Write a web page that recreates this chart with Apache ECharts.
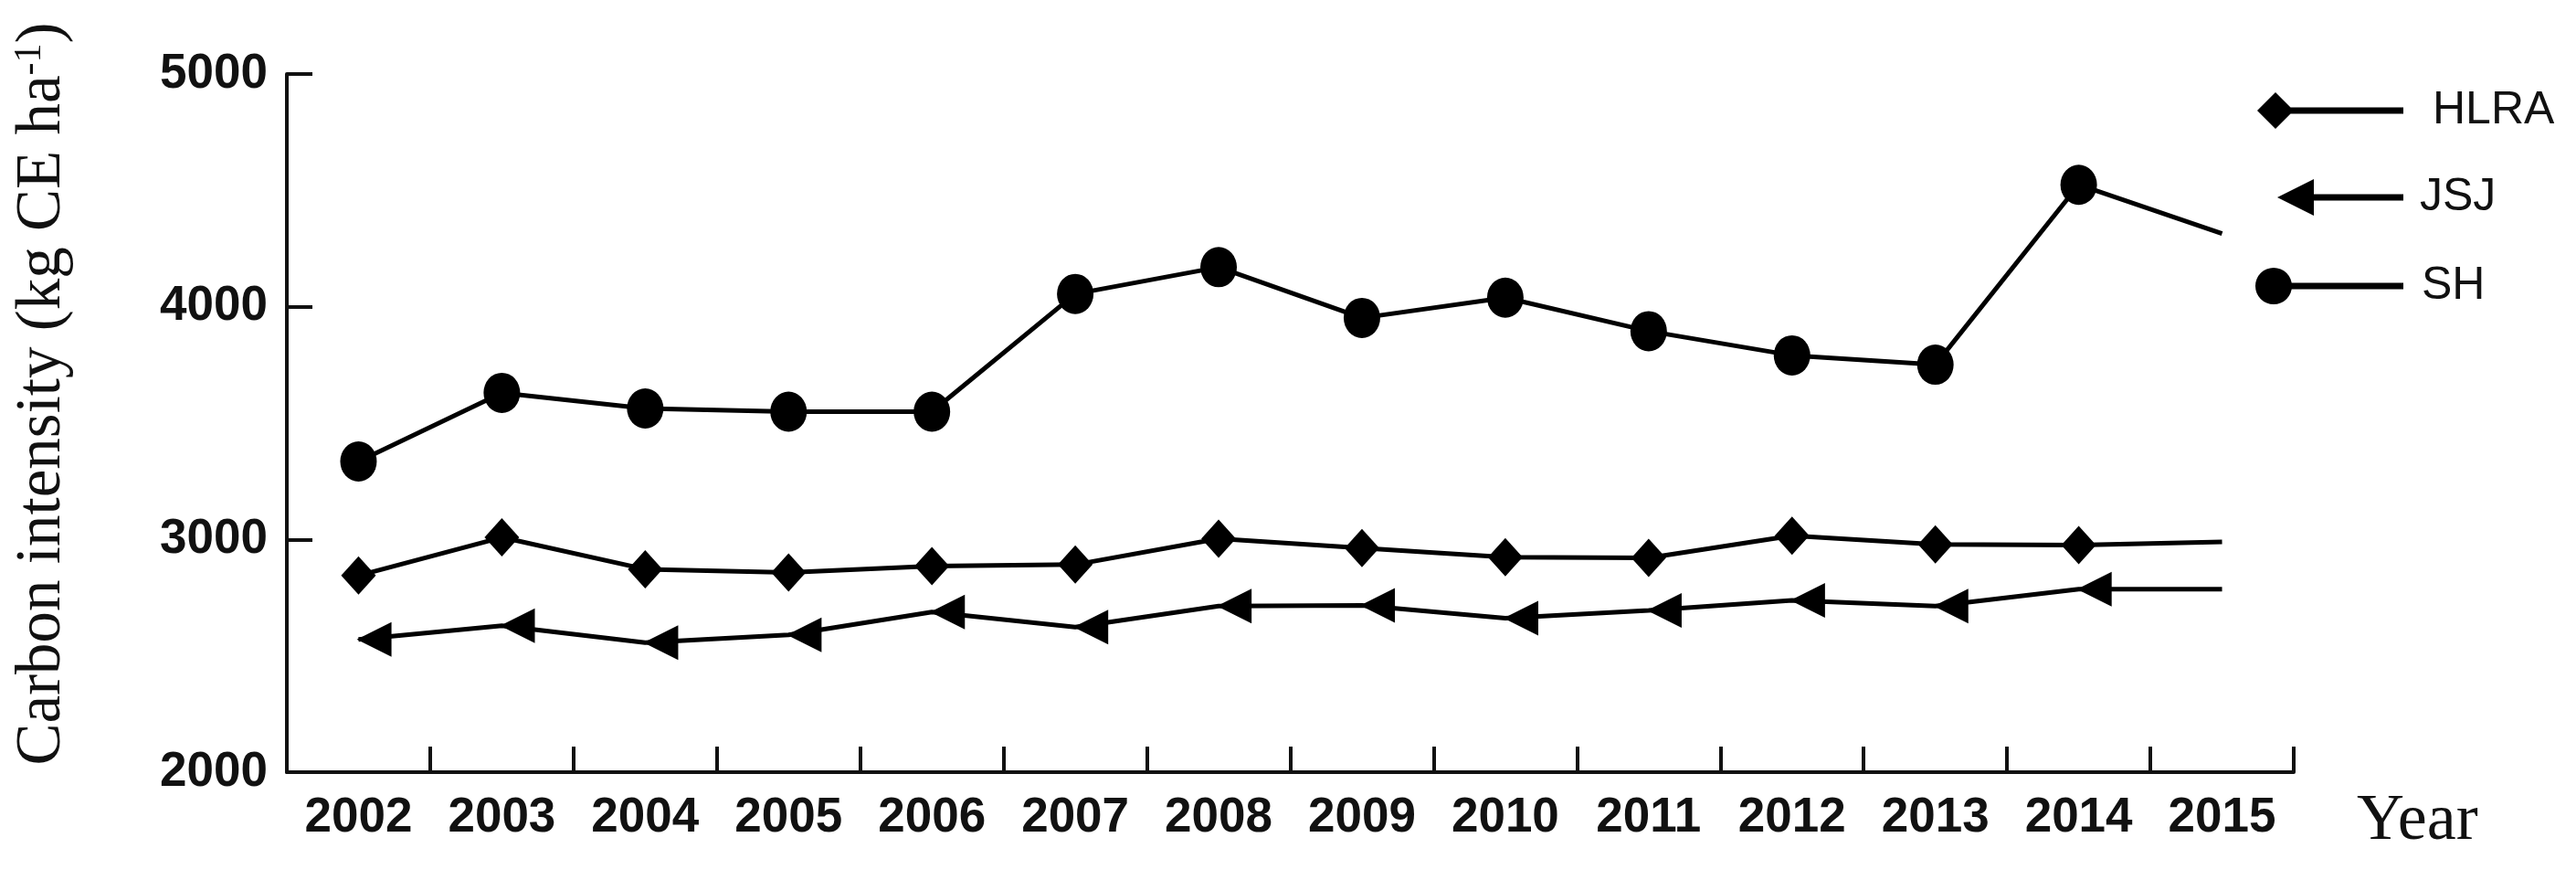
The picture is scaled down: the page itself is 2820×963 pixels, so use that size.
<!DOCTYPE html>
<html>
<head>
<meta charset="utf-8">
<title>Carbon intensity</title>
<script src="https://cdn.jsdelivr.net/npm/echarts@6/dist/echarts.min.js"></script>
<style>
  html, body { margin: 0; padding: 0; background: #fff; }
  #chart { width: 2820px; height: 963px; }
</style>
</head>
<body>
<div id="chart"></div>
<script>
// years on the x axis
var years = ['2002', '2003', '2004', '2005', '2006', '2007', '2008', '2009', '2010', '2011', '2012', '2013', '2014', '2015']
// carbon intensity, kgCE per ha
var hlra = [2845, 3009, 2872, 2858, 2885, 2892, 3003, 2963, 2924, 2921, 3016, 2979, 2976, 2990]
var jsj = [2570, 2629, 2557, 2590, 2688, 2623, 2714, 2717, 2662, 2695, 2738, 2714, 2786, 2786]
var sh = [3335, 3630, 3563, 3549, 3549, 4055, 4170, 3952, 4039, 3895, 3791, 3751, 4524, 4314]
var yTicks = [2000, 3000, 4000, 5000]

// last year has no marker in the original
function toData(arr) {
  return arr.map(function (v, i) {
    return i === arr.length - 1 ? { value: v, symbol: 'none' } : v
  })
}

var ink = '#111'
var triLeft = 'path://M0,10L20,0L20,20Z'
var legendText = { fontFamily: 'Liberation Sans', fontSize: 50, color: ink }

var chart = echarts.init(document.getElementById('chart'))
var option = {
  backgroundColor: '#fff',
  animation: false,
  grid: { left: 314, right: 309, top: 81, bottom: 118, outerBoundsMode: 'none' },
  legend: [
    {
      left: 2471, top: 96, padding: 0, itemWidth: 160, itemHeight: 40,
      data: [{ name: 'HLRA', icon: 'path://M0,20L20,0L40,20L20,40ZM20,16.5L160,16.5L160,23.5L20,23.5Z' }],
      textStyle: Object.assign({ padding: [0, 0, 0, 27] }, legendText)
    },
    {
      left: 2493, top: 191, padding: 0, itemWidth: 138, itemHeight: 40,
      data: [{ name: 'JSJ', icon: 'path://M0,20L40,0L40,40ZM40,16.5L138,16.5L138,23.5L40,23.5Z' }],
      textStyle: Object.assign({ padding: [0, 0, 0, 13] }, legendText)
    },
    {
      left: 2469, top: 288, padding: 0, itemWidth: 162, itemHeight: 40,
      data: [{ name: 'SH', icon: 'path://M0,20A20,20 0 1,1 40,20A20,20 0 1,1 0,20ZM20,16.5L162,16.5L162,23.5L20,23.5Z' }],
      textStyle: Object.assign({ padding: [0, 0, 0, 15] }, legendText)
    }
  ],
  xAxis: {
    type: 'category',
    data: years,
    boundaryGap: true,
    name: 'Year',
    nameLocation: 'end',
    nameGap: 69,
    nameTextStyle: { fontFamily: 'Liberation Serif', fontSize: 72, color: ink, verticalAlign: 'top', padding: [18, 0, 0, 0] },
    axisLine: { show: true, lineStyle: { color: ink, width: 4 } },
    axisTick: { show: true, inside: true, interval: 0, length: 28, lineStyle: { color: ink, width: 4 } },
    axisLabel: { interval: 0, fontFamily: 'Liberation Sans', fontWeight: 'bold', fontSize: 53, color: ink, margin: 24 },
    splitLine: { show: false }
  },
  yAxis: {
    type: 'value',
    min: yTicks[0],
    max: yTicks[yTicks.length - 1],
    interval: 1000,
    name: '{t|Carbon intensity (kg CE ha}{s|-1}{t|)}',
    nameLocation: 'middle',
    nameGap: 233,
    nameTextStyle: {
      padding: [0, 0, 0, 64],
      rich: {
        t: { fontFamily: 'Liberation Serif', fontSize: 69, color: ink },
        s: { fontFamily: 'Liberation Serif', fontSize: 42, color: ink, verticalAlign: 'top', padding: [0, 0, 24, 0] }
      }
    },
    axisLine: { show: true, lineStyle: { color: ink, width: 4 } },
    axisTick: { show: true, inside: true, length: 28, lineStyle: { color: ink, width: 4 } },
    axisLabel: {
      fontFamily: 'Liberation Sans', fontWeight: 'bold', fontSize: 53, color: ink, margin: 21,
      formatter: function (v) { return String(v) }
    },
    splitLine: { show: false }
  },
  series: [
    {
      name: 'SH', type: 'line', data: toData(sh),
      symbol: 'circle', symbolSize: [40, 44],
      itemStyle: { color: '#000' }, lineStyle: { color: '#000', width: 5 }
    },
    {
      name: 'HLRA', type: 'line', data: toData(hlra),
      symbol: 'diamond', symbolSize: [38, 42],
      itemStyle: { color: '#000' }, lineStyle: { color: '#000', width: 5 }
    },
    {
      name: 'JSJ', type: 'line', data: toData(jsj),
      symbol: triLeft, symbolSize: [38, 38], symbolOffset: ['45%', 0],
      itemStyle: { color: '#000' }, lineStyle: { color: '#000', width: 5 }
    }
  ]
}
chart.setOption(option)
</script>
</body>
</html>
